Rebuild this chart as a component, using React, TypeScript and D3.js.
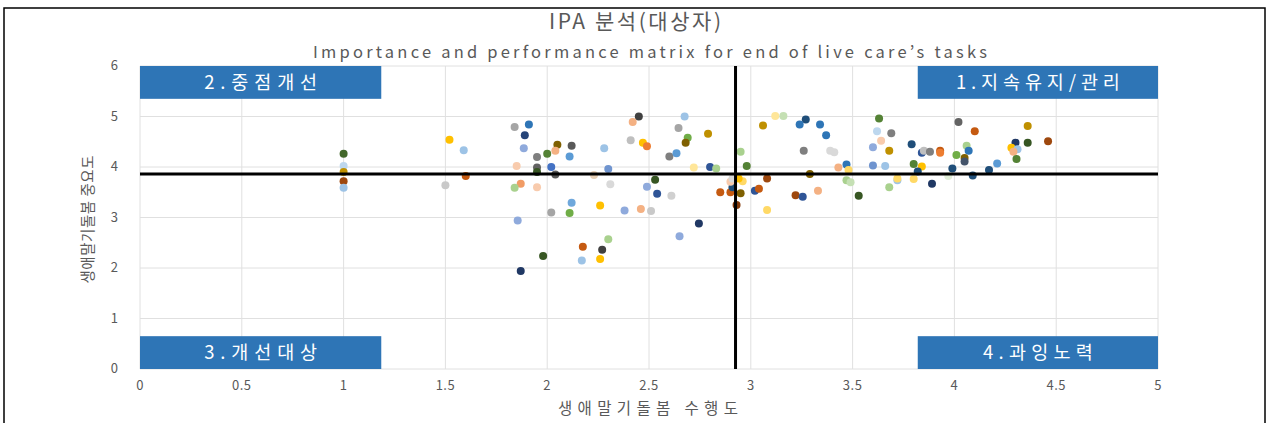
import React from "react";
import * as d3 from "d3";

// Performance (x) values of each task
const performance: number[] = [
  1.0, 1.0, 1.0, 1.0, 1.0, 1.52, 1.59, 1.6, 1.5, 1.84, 1.91, 1.89, 1.885, 2.05, 2.04, 2.0, 1.95, 1.85, 1.95, 2.02,
  1.95, 2.04, 1.87, 1.84, 1.95, 2.02, 1.855, 1.98, 1.87, 2.45, 2.42, 2.675, 2.645, 3.06, 2.69, 2.79, 2.68, 2.41, 2.47, 2.49,
  2.12, 2.28, 2.11, 2.6, 2.635, 2.95, 2.98, 2.3, 2.8, 2.83, 2.72, 2.23, 2.53, 2.31, 2.49, 2.54, 2.61, 2.85, 2.9, 2.95,
  2.91, 2.9, 2.96, 2.91, 2.94, 3.02, 3.04, 3.08, 3.08, 2.93, 2.12, 2.26, 2.38, 2.46, 2.51, 2.11, 2.745, 2.65, 2.3, 2.175,
  2.27, 2.17, 2.26, 3.12, 3.16, 3.27, 3.24, 3.34, 3.37, 3.26, 3.39, 3.41, 3.43, 3.47, 3.48, 3.29, 3.22, 3.255, 3.33, 3.47,
  3.49, 3.53, 3.63, 3.62, 3.69, 3.64, 3.6, 3.68, 3.6, 3.66, 3.68, 3.72, 3.72, 3.8, 3.79, 3.84, 3.85, 3.88, 3.93, 3.93,
  3.8, 3.84, 3.82, 3.89, 4.02, 4.1, 4.01, 4.06, 4.07, 4.05, 4.05, 3.99, 3.97, 4.09, 4.36, 4.3, 4.36, 4.46, 4.28, 4.31,
  4.29, 4.305, 4.21, 4.17,
];

// Importance (y) values of each task
const importance: number[] = [
  4.26, 4.02, 3.9, 3.72, 3.59, 4.54, 4.33, 3.82, 3.64, 4.79, 4.84, 4.63, 4.37, 4.44, 4.32, 4.26, 4.2, 4.02, 3.99, 4.0,
  3.9, 3.85, 3.67, 3.59, 3.6, 3.1, 2.94, 2.24, 1.94, 5.0, 4.89, 5.0, 4.77, 4.82, 4.58, 4.66, 4.48, 4.53, 4.48, 4.41,
  4.42, 4.37, 4.21, 4.21, 4.27, 4.3, 4.02, 3.96, 4.0, 3.97, 3.99, 3.84, 3.75, 3.66, 3.61, 3.47, 3.43, 3.5, 3.5, 3.48,
  3.6, 3.71, 3.72, 3.77, 3.77, 3.53, 3.57, 3.77, 3.15, 3.25, 3.29, 3.24, 3.14, 3.17, 3.13, 3.09, 2.88, 2.63, 2.57, 2.42,
  2.36, 2.15, 2.18, 5.01, 5.01, 4.94, 4.84, 4.84, 4.63, 4.32, 4.32, 4.29, 3.99, 4.05, 3.94, 3.86, 3.44, 3.41, 3.53, 3.74,
  3.7, 3.43, 4.96, 4.71, 4.67, 4.52, 4.39, 4.32, 4.03, 4.02, 3.6, 3.74, 3.77, 3.76, 4.45, 4.28, 4.32, 4.3, 4.32, 4.28,
  4.06, 4.01, 3.91, 3.67, 4.89, 4.71, 4.24, 4.42, 4.32, 4.18, 4.11, 3.97, 3.82, 3.83, 4.81, 4.48, 4.48, 4.51, 4.38, 4.35,
  4.3, 4.16, 4.07, 3.94,
];

// Marker colour of each task series
const pointColors: string[] = [
  "#43682B", "#BDD7EE", "#BF9000", "#9E480E", "#9DC3E6", "#FFC000", "#9DC3E6", "#C55A11", "#C9C9C9", "#A5A5A5",
  "#2E75B6", "#264478", "#8FAADC", "#7F6000", "#F4B183", "#548235", "#7F7F7F", "#F8CBAD", "#636363", "#4472C4",
  "#375623", "#595959", "#F19C65", "#A9D18E", "#F8CBAD", "#A5A5A5", "#8FAADC", "#375623", "#203864", "#404040",
  "#F4B183", "#9DC3E6", "#A5A5A5", "#BF9000", "#70AD47", "#BF9000", "#7F6000", "#BFBFBF", "#FFC000", "#ED7D31",
  "#595959", "#9DC3E6", "#5B9BD5", "#7F7F7F", "#5B9BD5", "#A9D18E", "#548235", "#6F94CF", "#2F5597", "#A9D18E",
  "#FFE699", "#E7CFB5", "#375623", "#D9D9D9", "#8FAADC", "#2F5597", "#D0D0D0", "#C55A11", "#C55A11", "#7F6000",
  "#1F4E79", "#F8CBAD", "#FFD966", "#D9D9D9", "#FFC000", "#2F5597", "#C55A11", "#9E480E", "#FFD966", "#843C0C",
  "#6FA8DC", "#FFC000", "#8FAADC", "#F4B183", "#C9C9C9", "#70AD47", "#203864", "#8FAADC", "#A9D18E", "#C55A11",
  "#404040", "#9DC3E6", "#FFC000", "#FFE699", "#C5E0B4", "#1F4E79", "#2E75B6", "#2E75B6", "#2E75B6", "#7F7F7F",
  "#D9D9D9", "#D9D9D9", "#F4B183", "#2E75B6", "#FFD966", "#7F6000", "#9E480E", "#2F5597", "#F4B183", "#A9D18E",
  "#C5E0B4", "#375623", "#548235", "#BDD7EE", "#7F7F7F", "#F8CBAD", "#8FAADC", "#BF9000", "#6F94CF", "#9DC3E6",
  "#A9D18E", "#9DC3E6", "#FFD966", "#FFD966", "#1F4E79", "#2F5597", "#BFBFBF", "#7F7F7F", "#C55A11", "#ED7D31",
  "#548235", "#FFC000", "#1F4E79", "#203864", "#636363", "#C55A11", "#70AD47", "#A9D18E", "#2E75B6", "#7F6000",
  "#44546A", "#1F4E79", "#E2EFD9", "#1F4E79", "#BF9000", "#203864", "#375623", "#9E480E", "#FFC000", "#9DC3E6",
  "#F4B183", "#548235", "#5B9BD5", "#1F4E79",
];

const xTicks: number[] = [0, 0.5, 1, 1.5, 2, 2.5, 3, 3.5, 4, 4.5, 5];
const yTicks: number[] = [0, 1, 2, 3, 4, 5, 6];
const meanPerformance = 2.925;
const meanImportance = 3.86;

const quadrantLabels: string[] = ["1.지속유지/관리", "2.중점개선", "3.개선대상", "4.과잉노력"];
// quadrant boxes in data units: [x0, x1, y0, y1]
const quadrantBoxes: [number, number, number, number][] = [
  [3.82, 5, 5.35, 6],
  [0, 1.185, 5.35, 6],
  [0, 1.185, 0, 0.65],
  [3.82, 5, 0, 0.65],
];
const quadrantLabelWidths: number[] = [164, 113, 113, 110];

const title = "IPA 분석(대상자)";
const subtitle = "Importance and performance matrix for end of live care’s tasks";
const xTitle = "생애말기돌봄 수행도";
const yTitle = "생애말기돌봄 중요도";

const FONT = "'Noto Sans CJK KR', 'Noto Sans', sans-serif";
const TEXT = "#595959";

export default function App() {
  const W = 1268;
  const H = 423;
  const x = d3.scaleLinear().domain([0, 5]).range([140, 1158]);
  const y = d3.scaleLinear().domain([0, 6]).range([369, 66]);

  return (
    <svg
      width={W}
      height={H}
      style={{ position: "absolute", left: 0, top: 0, background: "#fff" }}
      fontFamily={FONT}
    >
      <rect x={4} y={8} width={1261} height={430} fill="#fff" stroke="#000" strokeWidth={1.5} />
      <text x={635} y={29} textAnchor="middle" fontSize={21} fill={TEXT} textLength={172} lengthAdjust="spacing">
        {title}
      </text>
      <text x={650} y={58} textAnchor="middle" fontSize={16.5} fill={TEXT} textLength={674} lengthAdjust="spacing">
        {subtitle}
      </text>

      {/* grid */}
      {xTicks.map((t) => (
        <line key={"gx" + t} x1={x(t)} x2={x(t)} y1={y(6)} y2={y(0)} stroke="#E0E0E0" strokeWidth={1} />
      ))}
      {yTicks.map((t) => (
        <line key={"gy" + t} x1={x(0)} x2={x(5)} y1={y(t)} y2={y(t)} stroke="#E0E0E0" strokeWidth={1} />
      ))}

      {/* tick labels */}
      {xTicks.map((t) => (
        <text key={"tx" + t} x={x(t)} y={390} textAnchor="middle" fontSize={13} fill={TEXT} letterSpacing={0.5}>
          {String(t)}
        </text>
      ))}
      {yTicks.map((t) => (
        <text key={"ty" + t} x={118} y={y(t) + 4} textAnchor="end" fontSize={13} fill={TEXT}>
          {String(t)}
        </text>
      ))}

      {/* axis titles */}
      <text x={648} y={414} textAnchor="middle" fontSize={15.5} fill={TEXT} textLength={180} lengthAdjust="spacing">
        {xTitle}
      </text>
      <text
        transform={`translate(93, ${y(2.96)}) rotate(-90)`}
        textAnchor="middle"
        fontSize={14.5}
        fill={TEXT}
        textLength={128}
        lengthAdjust="spacing"
      >
        {yTitle}
      </text>

      {/* quadrant boxes */}
      {quadrantBoxes.map((b, i) => (
        <g key={"q" + i}>
          <rect
            x={x(b[0])}
            y={y(b[3])}
            width={x(b[1]) - x(b[0])}
            height={y(b[2]) - y(b[3])}
            fill="#2E75B6"
          />
          <text
            x={(x(b[0]) + x(b[1])) / 2}
            y={(y(b[2]) + y(b[3])) / 2 + 6.5}
            textAnchor="middle"
            fontSize={18.5}
            fill="#fff"
            textLength={quadrantLabelWidths[i]}
            lengthAdjust="spacing"
          >
            {quadrantLabels[i]}
          </text>
        </g>
      ))}

      {/* points */}
      {performance.map((v, i) => (
        <circle key={"p" + i} cx={x(v)} cy={y(importance[i])} r={4} fill={pointColors[i]} />
      ))}

      {/* mean lines */}
      <line x1={x(meanPerformance)} x2={x(meanPerformance)} y1={y(6)} y2={y(0)} stroke="#000" strokeWidth={3} />
      <line x1={x(0)} x2={x(5)} y1={y(meanImportance)} y2={y(meanImportance)} stroke="#000" strokeWidth={3} />
    </svg>
  );
}
